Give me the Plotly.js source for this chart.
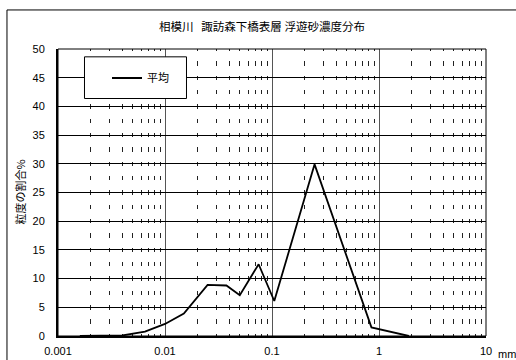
<!DOCTYPE html>
<html>
<head>
<meta charset="utf-8">
<script src="https://cdn.plot.ly/plotly-3.0.1.min.js"></script>
<style>html,body{margin:0;padding:0;background:#fff;}#chart{width:516px;height:360px;}</style>
</head>
<body>
<div id="chart"></div>
<script>
// Data (particle size in mm, percentage)
var grainSize = [0.0016, 0.004, 0.0065, 0.01, 0.015, 0.025, 0.0375, 0.05, 0.075, 0.105, 0.25, 0.85, 1.9];
var percent   = [0, 0.1, 0.75, 2.1, 3.9, 8.9, 8.8, 7.1, 12.5, 6.1, 29.9, 1.5, 0];
var seriesName = '平均';
var xTickVals = [0.001, 0.01, 0.1, 1, 10];
var xTickText = ['0.001', '0.01', '0.1', '1', '10'];
var chartTitle = '相模川&nbsp;&nbsp;&nbsp;諏訪森下橋表層 浮遊砂濃度分布';
var yTitle = '粒度の割合%';

var font = 'Arial, "Liberation Sans", "Noto Sans CJK JP", sans-serif';
var cjk = '"Noto Sans CJK JP", "Noto Sans CJK SC", sans-serif';

var trace = {
  x: grainSize, y: percent, type: 'scatter', mode: 'lines', name: seriesName,
  line: {color: '#000', width: 1.8}, showlegend: true
};

var layout = {
  width: 516, height: 360,
  margin: {l: 58, r: 30, t: 49, b: 24},
  paper_bgcolor: '#fff', plot_bgcolor: '#fff',
  font: {family: font, size: 11, color: '#000'},
  title: {text: chartTitle, font: {family: cjk, size: 11.5, color: '#000'},
          x: 0.4766, xref: 'paper', xanchor: 'center', y: 0.925, yref: 'container', yanchor: 'middle'},
  showlegend: true,
  legend: {x: 0.1145, y: 0.899, xanchor: 'left', yanchor: 'middle', bgcolor: 'rgba(0,0,0,0)',
           borderwidth: 0, font: {family: cjk, size: 11, color: '#000'}},
  xaxis: {
    type: 'log', range: [-3, 1], tickmode: 'array', tickvals: xTickVals, ticktext: xTickText,
    showgrid: true, gridcolor: '#555', gridwidth: 1,
    minor: {dtick: 'D1', showgrid: true, gridcolor: '#222', gridwidth: 1, griddash: '2.2px,9.95px,2.2px,0px', ticks: ''},
    ticks: '', ticklen: 0, showline: true, linecolor: '#000', linewidth: 2, mirror: false,
    ticklabelstandoff: 4, automargin: false, zeroline: false,
    tickfont: {family: font, size: 11, color: '#000'}
  },
  yaxis: {
    range: [0, 50], dtick: 5, tick0: 0, showgrid: true, gridcolor: '#000', gridwidth: 1,
    ticks: '', ticklen: 0, showline: true, linecolor: '#000', linewidth: 2, mirror: false,
    ticklabelstandoff: 9, automargin: false, zeroline: false,
    tickfont: {family: font, size: 11, color: '#000'}
  },
  shapes: [
    {type: 'rect', xref: 'paper', yref: 'paper', x0: -0.1192, x1: 2, y0: -1, y1: 1.136,
     line: {color: '#000', width: 1}, fillcolor: 'rgba(0,0,0,0)', layer: 'below'},
    {type: 'rect', xref: 'paper', yref: 'paper', x0: 0, x1: 1, y0: 0, y1: 1,
     line: {color: '#000', width: 1}, fillcolor: 'rgba(0,0,0,0)', layer: 'above'},
    {type: 'rect', xref: 'paper', yref: 'paper', x0: 0.0619, x1: 0.3002, y0: 0.8275, y1: 0.9727,
     line: {color: '#000', width: 1}, fillcolor: '#fff', layer: 'above'}
  ],
  annotations: [
    {text: yTitle, xref: 'paper', yref: 'paper', x: -0.0911, y: 0.5, xanchor: 'center', yanchor: 'middle',
     textangle: -90, showarrow: false, font: {family: cjk, size: 11, color: '#000'}},
    {text: 'mm', xref: 'paper', yref: 'paper', x: 1.0234, y: -0.0627, xanchor: 'left', yanchor: 'middle',
     showarrow: false, font: {family: font, size: 11, color: '#000'}}
  ]
};

Plotly.newPlot('chart', [trace], layout, {displayModeBar: false, staticPlot: true});
</script>
</body>
</html>
